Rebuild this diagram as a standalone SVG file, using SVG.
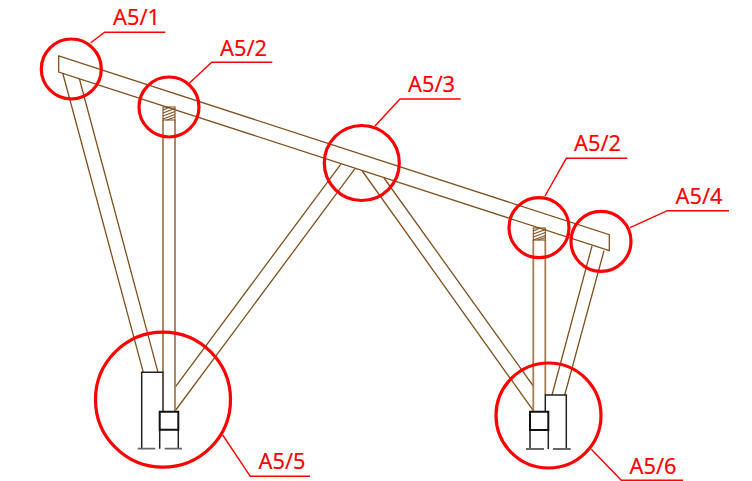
<svg xmlns="http://www.w3.org/2000/svg" width="752" height="481" viewBox="0 0 752 481">
<style>
.b{fill:none;stroke:#80501e;stroke-width:1.3}
.p{fill:none;stroke:#a67c52;stroke-width:1.8}
.h{fill:none;stroke:#80501e;stroke-width:1.1}
.k{fill:none;stroke:#222;stroke-width:1.5}
.kb{fill:none;stroke:#111;stroke-width:2}
.g{fill:none;stroke:#666;stroke-width:1.8}
.c{fill:none;stroke:#f00;stroke-width:3.2}
.l{fill:none;stroke:#f00;stroke-width:1.4}
text{font-family:"Noto Sans","Open Sans","Liberation Sans",sans-serif;font-size:21.800px;fill:#f00;stroke:#f00;stroke-width:.15}
</style>
<g id="structure">
<path class="b" d="M58.7 56V72L609.3 250.7V234.7Z"/>
<path class="b" d="M62.7 73L143.3 372.3M79.3 78.5L158 372.3"/>
<path class="b" d="M340.7 164.3L175 387.3M355 168.7L175 411"/>
<path class="b" d="M362.3 171L533.3 410.7M384 178L533.3 386"/>
<path class="b" d="M592 246L552 395M604 250.7L564.7 395"/>
<path class="p" d="M163 120V372.3M175 120V411.7"/>
<path class="p" d="M533.3 240V411.7M545.3 240V395"/>
<g id="hatch-left"><rect class="h" x="163" y="107" width="12" height="13"/><path class="h" d="M163 110L170 107M163 113L175 108.500M163 116L175 111.500M163 119L175 114.500M167 120L175 117"/></g>
<g id="hatch-right"><rect class="h" x="533.300" y="228" width="12" height="12"/><path class="h" d="M533.300 231L540 228M533.300 234L545.300 229.500M533.300 237L545.300 232.500M533.300 240L545.300 235.500M538 240L545.300 237.500"/></g>
<path class="k" d="M141.700 448.700V372.300H163V411.700M159.700 429.700V448.700M178.300 429.700V448.700"/>
<path class="kb" d="M159.700 411.700H178.300V429.700H159.700Z"/>
<path class="g" d="M137.700 448.700H155.300M164.700 448.700H182"/>
<path class="k" d="M566.300 449V395H545.300V411.700M530 430V449M548.300 430V449"/>
<path class="kb" d="M530 411.700H548.300V430H530Z"/>
<path class="g" d="M526 449H544M553 449H570.700"/>
</g>
<g id="connectors">
<path class="l" d="M90.700 42.700L104.700 32.300H165.300"/>
<path class="l" d="M189.300 83.300L211.700 62.300H272.300"/>
<path class="l" d="M375 126L400 99H460.700"/>
<path class="l" d="M545 196L566.300 158.300H627.300"/>
<path class="l" d="M630 227.700L667.300 210.700H729"/>
<path class="l" d="M222.700 435L250.300 476.300H310"/>
<path class="l" d="M591.300 449.300L621.300 480.300H683"/>
</g>
<g id="a5-1"><circle class="c" cx="71.300" cy="69" r="30"/><text x="113" y="25">A5/1</text></g>
<g id="a5-2-left"><circle class="c" cx="169" cy="107" r="30"/><text x="220" y="55.500">A5/2</text></g>
<g id="a5-3"><circle class="c" cx="361.800" cy="163" r="37.500"/><text x="408" y="92">A5/3</text></g>
<g id="a5-2-right"><circle class="c" cx="539" cy="227.700" r="30"/><text x="574" y="151">A5/2</text></g>
<g id="a5-4"><circle class="c" cx="601" cy="241.300" r="30"/><text x="675.500" y="204">A5/4</text></g>
<g id="a5-5"><circle class="c" cx="163" cy="399.700" r="67.500"/><text x="258.500" y="469">A5/5</text></g>
<g id="a5-6"><circle class="c" cx="548.500" cy="415.500" r="52.500"/><text x="629.500" y="474">A5/6</text></g>
</svg>
